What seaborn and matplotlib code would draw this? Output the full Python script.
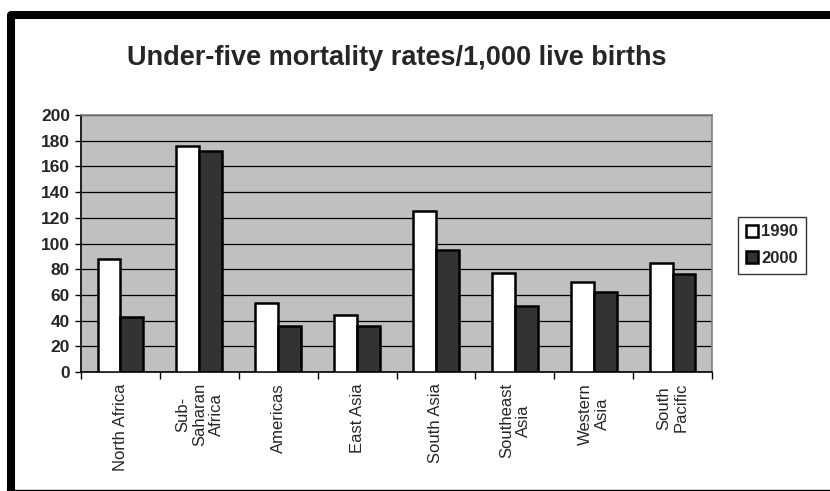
import matplotlib
matplotlib.use("Agg")
import matplotlib.pyplot as plt
from matplotlib.lines import Line2D
from matplotlib.ticker import FixedLocator, NullFormatter
import seaborn as sns
import pandas as pd

# Under-five mortality rates per 1,000 live births, by region
regions = ["North Africa", "Sub-\nSaharan\nAfrica", "Americas", "East Asia",
           "South Asia", "Southeast\nAsia", "Western\nAsia", "South\nPacific"]
rate_1990 = [88, 176, 54, 44, 125, 77, 70, 85]
rate_2000 = [43, 172, 36, 36, 95, 51, 62, 76]
years = ["1990", "2000"]
y_ticks = [0, 20, 40, 60, 80, 100, 120, 140, 160, 180, 200]

df = pd.DataFrame({
    "region": regions * 2,
    "year": [years[0]] * len(regions) + [years[1]] * len(regions),
    "rate": rate_1990 + rate_2000,
})

sns.set_theme(style="white")
plt.rcParams["font.family"] = ["Liberation Sans", "DejaVu Sans"]

W, H = 830, 491
fig = plt.figure(figsize=(W / 100, H / 100), dpi=100)
fig.patch.set_facecolor("white")

left, right, top, bottom = 81, 712, 115, 372
ax = fig.add_axes([left / W, 1 - bottom / H, (right - left) / W, (bottom - top) / H])
ax.set_facecolor("#C0C0C0")

sns.barplot(data=df, x="region", y="rate", hue="year", order=regions,
            hue_order=years, palette=["white", "#333333"], width=0.58, gap=0,
            edgecolor="black", linewidth=1.8, saturation=1, ax=ax, zorder=3)

ax.set_xlim(-0.5, len(regions) - 0.5)
ax.set_ylim(0, 200)
ax.set_yticks(y_ticks)
ax.set_yticklabels([str(v) for v in y_ticks], fontsize=12.5, fontweight="bold")
ax.yaxis.grid(True, color="black", linewidth=0.9, zorder=1)
ax.set_axisbelow(True)

ax.set_xticks(range(len(regions)))
ax.set_xticklabels(regions, rotation=90, fontsize=12, ha="center", va="top",
                   multialignment="center", linespacing=1.15)
ax.xaxis.set_minor_locator(FixedLocator([i - 0.5 for i in range(len(regions) + 1)]))
ax.xaxis.set_minor_formatter(NullFormatter())
ax.tick_params(axis="x", which="major", length=0, pad=8)
ax.tick_params(axis="x", which="minor", length=5, width=1, color="black",
               direction="out", bottom=True)
ax.tick_params(axis="y", length=4, width=1, color="black", direction="out",
               left=True, pad=4)
ax.set_xlabel("")
ax.set_ylabel("")

for side in ["left", "bottom"]:
    ax.spines[side].set_color("black")
    ax.spines[side].set_linewidth(1.2)
for side in ["top", "right"]:
    ax.spines[side].set_color("#808080")
    ax.spines[side].set_linewidth(1.2)

# Legend at the right of the plot area
handles, labels = ax.get_legend_handles_labels()
ax.legend_.remove()
leg = fig.legend(handles, labels, loc="upper left",
                 bbox_to_anchor=(738 / W, 1 - 217 / H),
                 frameon=True, fancybox=False, edgecolor="black",
                 prop={"size": 12, "weight": "bold"},
                 handlelength=0.75, handleheight=0.75, handletextpad=0.2,
                 borderpad=0.45, labelspacing=0.7, borderaxespad=0)
leg.get_frame().set_linewidth(1.0)

fig.text(397 / W, 1 - 58 / H, "Under-five mortality rates/1,000 live births",
         ha="center", va="center", fontsize=19.5, fontweight="bold")

# Frame around the chart: heavy top and left edges, thin bottom edge
frame = Line2D([W / W, 11 / W, 11 / W], [1 - 15 / H, 1 - 15 / H, 1 - 490 / H],
               transform=fig.transFigure, color="black", linewidth=5.8,
               solid_joinstyle="round", solid_capstyle="butt")
fig.add_artist(frame)
fig.add_artist(Line2D([7 / W, 1.0], [1 - 489.5 / H, 1 - 489.5 / H],
                      transform=fig.transFigure, color="black", linewidth=1.0))

fig.savefig("out.png", dpi=100, facecolor="white")
